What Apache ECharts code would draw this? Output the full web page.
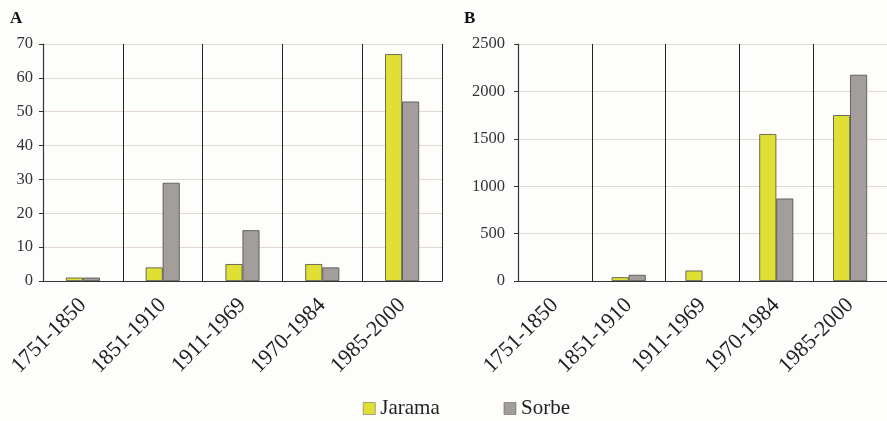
<!DOCTYPE html>
<html>
<head>
<meta charset="utf-8">
<script src="https://cdn.jsdelivr.net/npm/echarts@6/dist/echarts.min.js"></script>
<style>
html,body{margin:0;padding:0;background:#fdfdfb;}
#chart{width:887px;height:421px;}
</style>
</head>
<body>
<div id="chart"></div>
<script>
const categories = ['1751-1850', '1851-1910', '1911-1969', '1970-1984', '1985-2000'];
const jaramaA = [1, 4, 5, 5, 67];
const sorbeA = [1, 29, 15, 4, 53];
const jaramaB = [0, 40, 110, 1550, 1750];
const sorbeB = [0, 65, 0, 870, 2175];
const yTicksA = { min: 0, max: 70, interval: 10 };
const yTicksB = { min: 0, max: 2500, interval: 500 };

const serif = 'Liberation Serif';
const yellow = '#dfe033';
const gray = '#a39d9b';

function xAxis(gridIndex) {
  return {
    type: 'category', gridIndex: gridIndex, data: categories,
    axisLine: { lineStyle: { color: '#333', width: 1.2 } },
    axisTick: { show: false },
    splitLine: { show: true, lineStyle: { color: '#222', width: 1 } },
    axisLabel: { interval: 0, rotate: 45, margin: 21, fontFamily: serif, fontSize: 22, color: '#222' }
  };
}
function yAxis(gridIndex, t, margin) {
  return {
    type: 'value', gridIndex: gridIndex, min: t.min, max: t.max, interval: t.interval,
    axisLine: { show: true, lineStyle: { color: '#333', width: 1.2 } },
    axisTick: { show: true, length: 4, lineStyle: { color: '#333' } },
    splitLine: { show: true, lineStyle: { color: '#e3d6d6', width: 1 } },
    axisLabel: { margin: margin, fontFamily: serif, fontSize: 16.5, color: '#333', formatter: function (v) { return String(v); } }
  };
}
function bar(name, data, idx, color) {
  return {
    name: name, type: 'bar', xAxisIndex: idx, yAxisIndex: idx,
    data: data.map(function (v) { return v === 0 ? { value: v, itemStyle: { borderWidth: 0 } } : v; }),
    barWidth: 17, barGap: '0%',
    itemStyle: { color: color, borderColor: '#4a4a4a', borderWidth: 0.8 }
  };
}

const chart = echarts.init(document.getElementById('chart'));
chart.setOption({
  backgroundColor: '#fdfdfb',
  animation: false,
  title: [
    { text: 'A', left: 5, top: 5, textStyle: { fontFamily: serif, fontSize: 17, fontWeight: 'bold', color: '#111' } },
    { text: 'B', left: 459, top: 5, textStyle: { fontFamily: serif, fontSize: 17, fontWeight: 'bold', color: '#111' } }
  ],
  legend: {
    left: 358, top: 393, itemWidth: 12, itemHeight: 12, itemGap: 64,
    textStyle: { fontFamily: serif, fontSize: 21, color: '#222' },
    data: [
      { name: 'Jarama', icon: 'rect', itemStyle: { color: yellow, borderColor: '#555', borderWidth: 0.5 } },
      { name: 'Sorbe', icon: 'rect', itemStyle: { color: gray, borderColor: '#555', borderWidth: 0.5 } }
    ]
  },
  grid: [
    { left: 43, right: 445, top: 44, bottom: 140 },
    { left: 518, right: -7, top: 44, bottom: 140 }
  ],
  xAxis: [xAxis(0), xAxis(1)],
  yAxis: [yAxis(0, yTicksA, 10), yAxis(1, yTicksB, 13)],
  series: [
    bar('Jarama', jaramaA, 0, yellow),
    bar('Sorbe', sorbeA, 0, gray),
    bar('Jarama', jaramaB, 1, yellow),
    bar('Sorbe', sorbeB, 1, gray)
  ]
});
</script>
</body>
</html>
